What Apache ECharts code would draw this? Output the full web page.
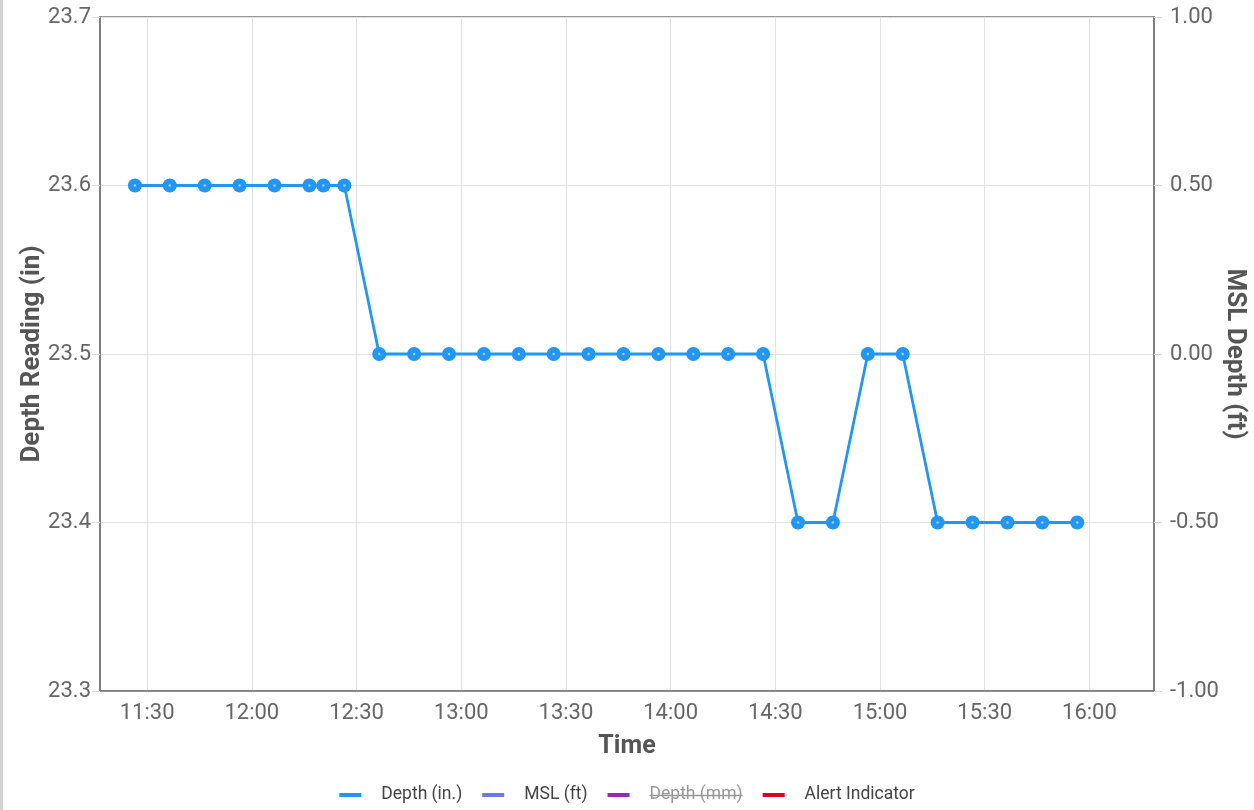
<!DOCTYPE html>
<html>
<head>
<meta charset="utf-8">
<script src="https://cdn.jsdelivr.net/npm/echarts@6/dist/echarts.min.js"></script>
<style>
html,body{margin:0;padding:0;background:#fff;}
#chart{position:absolute;left:0;top:0;width:1254px;height:810px;}
#edge{position:absolute;left:0;top:0;width:3px;height:810px;background:#d2d2d2;}
</style>
</head>
<body>
<div id="chart"></div>
<div id="edge"></div>
<script>
// ---- data ----
const times = ['11:26:30','11:36:30','11:46:30','11:56:30','12:06:30','12:16:30','12:20:30','12:26:30',
  '12:36:30','12:46:30','12:56:30','13:06:30','13:16:30','13:26:30','13:36:30','13:46:30','13:56:30',
  '14:06:30','14:16:30','14:26:30','14:36:30','14:46:30','14:56:30','15:06:30','15:16:30','15:26:30',
  '15:36:30','15:46:30','15:56:30'];
const depthIn = [23.6,23.6,23.6,23.6,23.6,23.6,23.6,23.6,
  23.5,23.5,23.5,23.5,23.5,23.5,23.5,23.5,23.5,
  23.5,23.5,23.5,23.4,23.4,23.5,23.5,23.4,23.4,
  23.4,23.4,23.4];
const mslFt = [];
const depthMm = [];
const alertIndicator = [];
const xTickLabels = ['11:30','12:00','12:30','13:00','13:30','14:00','14:30','15:00','15:30','16:00'];
const xRange = ['11:16:30','16:18:30'];
const seriesNames = ['Depth (in.)','MSL (ft)','Depth (mm)','Alert Indicator'];
const seriesColors = ['#2196F3','#6B7BE3','#9C27B0','#E3001B'];

function toMin(s){ const p = s.split(':').map(Number); return p[0]*60 + p[1] + (p[2]||0)/60; }
function fmtMin(v){ const h = Math.floor(v/60), m = Math.round(v - h*60); return h + ':' + (m<10?'0':'') + m; }

const tickVals = xTickLabels.map(toMin);
const font = 'Roboto';
const legendSize = 17.5;
const depthPts = times.map((t,i)=>[toMin(t), depthIn[i]]);

const chart = echarts.init(document.getElementById('chart'), null, {renderer:'canvas'});
const option = {
  animation:false,
  backgroundColor:'#fff',
  textStyle:{fontFamily:font},
  grid:{left:100,right:100,top:17,bottom:119,show:true,borderColor:'#777',borderWidth:1.5,
        containLabel:false,outerBoundsMode:'none'},
  legend:{
    bottom:1, left:'center', icon:'rect', itemWidth:22, itemHeight:4, itemGap:20,
    textStyle:{fontFamily:font,fontSize:legendSize,color:'#444',padding:[0,0,0,15]},
    data: seriesNames.map((n,i)=>({name:n, itemStyle:{color:seriesColors[i]}, textStyle: n==='Depth (mm)'?{color:'#999'}:undefined}))
  },
  xAxis:{
    type:'value', min:toMin(xRange[0]), max:toMin(xRange[1]),
    name:'Time', nameLocation:'middle', nameGap:43,
    nameTextStyle:{fontFamily:font,fontSize:25,fontWeight:'bold',color:'#555'},
    axisLine:{show:true,onZero:false,lineStyle:{color:'#777',width:1.5}},
    axisTick:{show:false,customValues:tickVals},
    axisLabel:{customValues:tickVals,formatter:v=>fmtMin(v),fontSize:22,color:'#666',margin:11,fontFamily:font},
    splitLine:{show:true,lineStyle:{color:'#e3e3e3',width:1}}
  },
  yAxis:[{
    type:'value', min:23.3, max:23.7, interval:0.1, position:'left',
    name:'Depth Reading (in)', nameLocation:'middle', nameGap:55, nameMoveOverlap:false,
    nameTextStyle:{fontFamily:font,fontSize:26,fontWeight:'bold',color:'#555'},
    axisLine:{show:true,onZero:false,lineStyle:{color:'#777',width:1.5}},
    axisTick:{show:true,length:8,lineStyle:{color:'#ddd'}},
    axisLabel:{formatter:v=>v.toFixed(1),fontSize:22,color:'#666',margin:9,fontFamily:font},
    splitLine:{show:true,lineStyle:{color:'#e3e3e3',width:1}}
  },{
    type:'value', min:-1, max:1, interval:0.5, position:'right',
    name:'MSL Depth (ft)', nameLocation:'middle', nameGap:67, nameRotate:-90, nameMoveOverlap:false,
    nameTextStyle:{fontFamily:font,fontSize:26,fontWeight:'bold',color:'#555'},
    axisLine:{show:true,onZero:false,lineStyle:{color:'#777',width:1.5}},
    axisTick:{show:true,length:8,lineStyle:{color:'#ddd'}},
    axisLabel:{formatter:v=>v.toFixed(2),fontSize:22,color:'#666',margin:16,fontFamily:font},
    splitLine:{show:false}
  }],
  series:[{
    name:seriesNames[0], type:'line', yAxisIndex:0,
    data: depthPts,
    symbol:'circle', symbolSize:14, showAllSymbol:true,
    lineStyle:{color:seriesColors[0],width:2.8},
    itemStyle:{color:seriesColors[0]},
    z:3
  },{
    name:'centre', type:'scatter', yAxisIndex:0, data: depthPts,
    symbol:'circle', symbolSize:2.5, itemStyle:{color:'#bfe0fb'}, z:4, silent:true
  },{
    name:seriesNames[1], type:'line', yAxisIndex:1, data:mslFt,
    lineStyle:{color:seriesColors[1]}, itemStyle:{color:seriesColors[1]}
  },{
    name:seriesNames[2], type:'line', yAxisIndex:0, data:depthMm,
    lineStyle:{color:seriesColors[2]}, itemStyle:{color:seriesColors[2]}
  },{
    name:seriesNames[3], type:'line', yAxisIndex:0, data:alertIndicator,
    lineStyle:{color:seriesColors[3]}, itemStyle:{color:seriesColors[3]}
  }]
};
chart.setOption(option);

// strike-through on the hidden "Depth (mm)" legend label, located from the rendered legend text
function strike(){
  const list = chart.getZr().storage.getDisplayList(true);
  let target = null;
  list.forEach(el=>{ if((el.type==='text'||el.type==='tspan') && el.style && el.style.text==='Depth (mm)') target = el; });
  if(!target) return;
  const r = target.getBoundingRect().clone();
  const m = target.getComputedTransform();
  if(m) r.applyTransform(m);
  const ctx = document.createElement('canvas').getContext('2d');
  ctx.font = legendSize + 'px ' + font;
  const w = ctx.measureText('Depth (mm)').width;
  const x2 = r.x + r.width;
  const x1 = x2 - w;
  const y = r.y + r.height/2 + 0.5;
  chart.setOption({graphic:[{type:'line',shape:{x1:x1,y1:y,x2:x2,y2:y},style:{stroke:'#999',lineWidth:1.3},z:100,silent:true}]});
}
strike();
</script>
</body>
</html>
